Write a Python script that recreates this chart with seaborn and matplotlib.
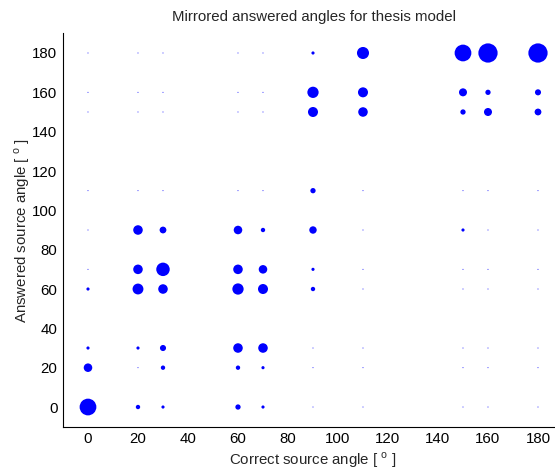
import numpy as np
import pandas as pd
import matplotlib
matplotlib.use("Agg")
import matplotlib.pyplot as plt
import seaborn as sns

angles = [0, 20, 30, 60, 70, 90, 110, 150, 160, 180]

# counts[answered][correct] ; rows = answered angle, cols = correct angle
counts_rows = {
    180: [0, 0, 0, 0, 0, 1, 16, 31, 41, 41],
    160: [0, 0, 0, 0, 0, 14, 11, 7, 3, 4],
    150: [0, 0, 0, 0, 0, 11, 10, 3, 7, 5],
    110: [0, 0, 0, 0, 0, 3, 0, 0, 0, 0],
    90:  [0, 10, 5, 8, 2, 6, 0, 1, 0, 0],
    70:  [0, 10, 20, 10, 8, 1, 0, 0, 0, 0],
    60:  [1, 13, 10, 14, 11, 2, 0, 0, 0, 0],
    30:  [1, 1, 4, 10, 10, 0, 0, 0, 0, 0],
    20:  [8, 0, 2, 2, 1, 0, 0, 0, 0, 0],
    0:   [31, 2, 1, 3, 1, 0, 0, 0, 0, 0],
}

xticks = [0, 20, 40, 60, 80, 100, 120, 140, 160, 180]
yticks = [0, 20, 40, 60, 80, 100, 120, 140, 160, 180]

records = []
for ans, row in counts_rows.items():
    for cor, c in zip(angles, row):
        records.append({"correct": cor, "answered": ans, "count": c})
df = pd.DataFrame(records)

sns.set_style("white")
plt.rcParams['font.family'] = ['Liberation Sans', 'DejaVu Sans']
plt.rcParams['mathtext.fontset'] = 'custom'
plt.rcParams['mathtext.rm'] = 'Liberation Sans'

fig = plt.figure(figsize=(5.55, 4.72), dpi=100)
ax = fig.add_axes([0.1135, 0.096, 0.9009, 0.8334])

cmax = df["count"].max()
sns.scatterplot(data=df, x="correct", y="answered", size="count",
                sizes=(0.5, 0.5 + 4.67 * cmax), size_norm=(0, cmax),
                color="#0000ff", linewidth=0, legend=False, ax=ax)

ax.set_xlim(-10, 190)
ax.set_ylim(-10, 190)
ax.set_xticks(xticks)
ax.set_yticks(yticks)
ax.tick_params(direction="in", length=5, width=0.8, labelsize=10.8,
               colors="black", pad=4)
for s in ["top", "right"]:
    ax.spines[s].set_visible(False)
for s in ["left", "bottom"]:
    ax.spines[s].set_color("black")
    ax.spines[s].set_linewidth(0.8)

ax.set_xlabel(r"Correct source angle [ $^{\rm o}$ ]", fontsize=10.8, labelpad=3)
ax.set_ylabel(r"Answered source angle [ $^{\rm o}$ ]", fontsize=10.8)
ax.yaxis.set_label_coords(-0.062, 0.5)
fig.text(0.565, 0.963, "Mirrored answered angles for thesis model",
         fontsize=10.8, ha="center", va="center")

fig.savefig("out.png", dpi=100)
